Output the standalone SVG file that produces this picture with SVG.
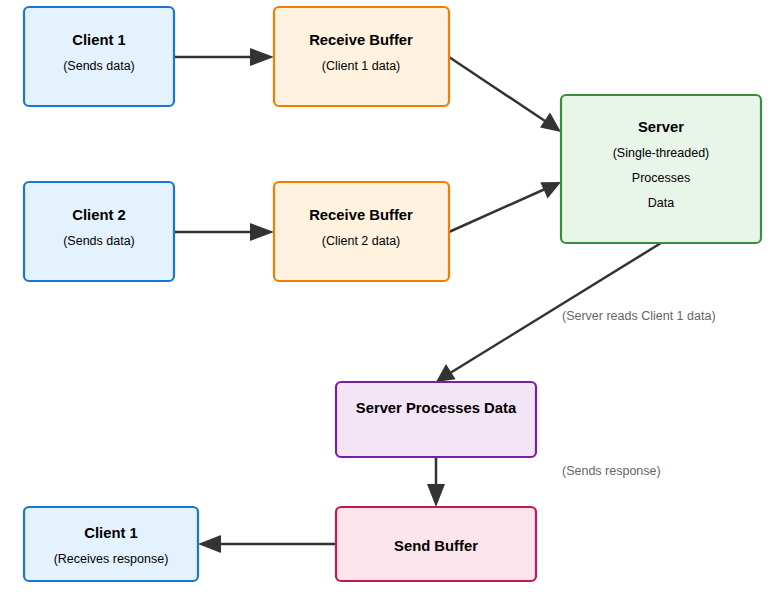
<svg xmlns="http://www.w3.org/2000/svg" width="772" height="612" viewBox="0 0 772 612">
<defs>
<style>
.node rect{stroke-width:2.2}
.blue{fill:#e3f2fd;stroke:#1976d2}
.orange{fill:#fff3e0;stroke:#f57c00}
.green{fill:#e8f5e9;stroke:#388e3c}
.purple{fill:#f3e5f5;stroke:#7b1fa2}
.pink{fill:#fce4ec;stroke:#c2185b}
text{font-family:"Liberation Sans",Arial,sans-serif;text-anchor:middle;fill:#000}
.t{font-size:14.8px;font-weight:bold}
.s{font-size:12.5px}
.lbl{font-size:12.5px;fill:#666;text-anchor:start}
.ln{stroke:#333;stroke-width:2.5;fill:none}
.hd{fill:#333}
</style>
</defs>
<rect width="772" height="612" fill="#fff"/>
<g id="edges">
<line class="ln" x1="174" y1="57" x2="254" y2="57"/>
<path class="hd" d="M274,57 l-24,-9 l0,18 Z"/>
<line class="ln" x1="174" y1="232" x2="254" y2="232"/>
<path class="hd" d="M274,232 l-24,-9 l0,18 Z"/>
<line class="ln" x1="449" y1="57" x2="545" y2="121"/>
<path class="hd" d="M561,132 L540,127.5 L550,112.5 Z"/>
<line class="ln" x1="449" y1="232" x2="544" y2="189.5"/>
<path class="hd" d="M561,182 L547.6,198.6 L540.3,182.2 Z"/>
<line class="ln" x1="661" y1="243" x2="451" y2="372.5"/>
<path class="hd" d="M436,382 L446,364 L455.6,379.3 Z"/>
<line class="ln" x1="436" y1="457" x2="436" y2="488"/>
<path class="hd" d="M436,507 L427,484 L445,484 Z"/>
<line class="ln" x1="336" y1="544" x2="216" y2="544"/>
<path class="hd" d="M198,544 L221,535 L221,553 Z"/>
<text class="lbl" x="562" y="320">(Server reads Client 1 data)</text>
<text class="lbl" x="562" y="475">(Sends response)</text>
</g>
<g id="client1" class="node">
<rect class="blue" x="24" y="7" width="150" height="99" rx="5"/>
<text class="t" x="99" y="45">Client 1</text>
<text class="s" x="99" y="70">(Sends data)</text>
</g>
<g id="rb1" class="node">
<rect class="orange" x="274" y="7" width="175" height="99" rx="5"/>
<text class="t" x="361" y="45">Receive Buffer</text>
<text class="s" x="361" y="70">(Client 1 data)</text>
</g>
<g id="client2" class="node">
<rect class="blue" x="24" y="182" width="150" height="99" rx="5"/>
<text class="t" x="99" y="220">Client 2</text>
<text class="s" x="99" y="245">(Sends data)</text>
</g>
<g id="rb2" class="node">
<rect class="orange" x="274" y="182" width="175" height="99" rx="5"/>
<text class="t" x="361" y="220">Receive Buffer</text>
<text class="s" x="361" y="245">(Client 2 data)</text>
</g>
<g id="server" class="node">
<rect class="green" x="561" y="95" width="200" height="148" rx="5"/>
<text class="t" x="661" y="132">Server</text>
<text class="s" x="661" y="157">(Single-threaded)</text>
<text class="s" x="661" y="182">Processes</text>
<text class="s" x="661" y="207">Data</text>
</g>
<g id="spd" class="node">
<rect class="purple" x="336" y="382" width="200" height="75" rx="5"/>
<text class="t" x="436" y="413">Server Processes Data</text>
</g>
<g id="sendbuf" class="node">
<rect class="pink" x="336" y="507" width="200" height="74" rx="5"/>
<text class="t" x="436" y="551">Send Buffer</text>
</g>
<g id="client1r" class="node">
<rect class="blue" x="24" y="507" width="174" height="74" rx="5"/>
<text class="t" x="111" y="538">Client 1</text>
<text class="s" x="111" y="563">(Receives response)</text>
</g>
</svg>
